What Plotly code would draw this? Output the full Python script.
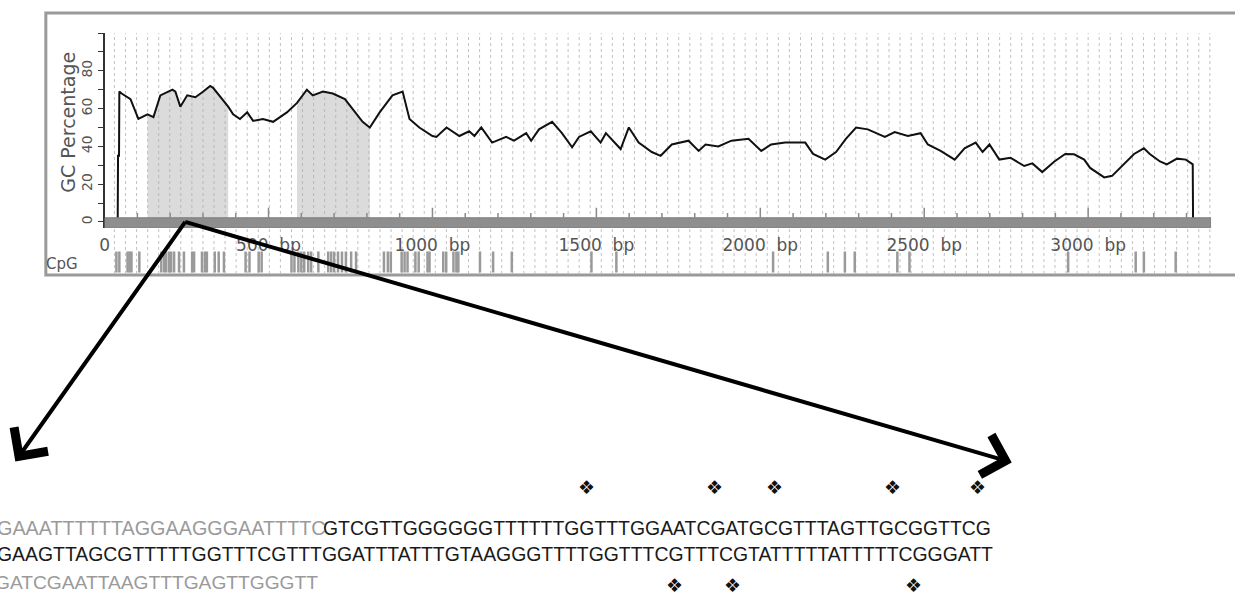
import plotly.graph_objects as go

W, H = 1235, 597

# ---------------- data ----------------
gc_bp = [0, 40, 41, 44, 45, 52, 79, 103, 131, 149, 170, 207, 216, 231, 252, 277, 301, 322, 331,
         359, 377, 392, 413, 435, 453, 483, 514, 556, 587, 617, 635, 666, 696, 733, 763, 787,
         809, 839, 878, 909, 930, 960, 1000, 1012, 1043, 1082, 1112, 1128, 1149, 1182, 1225,
         1249, 1286, 1301, 1325, 1365, 1395, 1426, 1447, 1483, 1513, 1529, 1574, 1599, 1629,
         1669, 1696, 1730, 1781, 1812, 1833, 1872, 1912, 1964, 2003, 2033, 2076, 2137, 2161,
         2198, 2231, 2261, 2292, 2328, 2380, 2410, 2450, 2489, 2511, 2550, 2593, 2623, 2657,
         2678, 2699, 2729, 2763, 2805, 2830, 2860, 2897, 2930, 2957, 2988, 3006, 3049, 3073,
         3097, 3140, 3170, 3188, 3219, 3240, 3271, 3298, 3319, 3320, 3372]
gc_pct = [0, 0, 35, 35, 69, 68, 65, 54.5, 57, 55.5, 67, 70, 69, 61, 67, 66, 69, 72, 71,
          65, 61, 57, 54.5, 58, 53.5, 54.5, 53, 58, 63, 70, 67, 69, 68, 65, 58, 53,
          50, 58, 67, 69, 54.5, 50, 45.5, 45, 50, 45.5, 48, 45.5, 50, 42, 45,
          43, 47, 43, 49, 53, 47, 39.5, 45, 48, 42, 47, 38.6, 50, 42,
          37, 35, 41, 43, 37.6, 41, 40, 43, 44, 37.6, 41, 42, 42, 36,
          33, 37, 44, 50, 49, 45, 47.6, 45.5, 47, 41, 37.6, 33, 39, 42,
          37, 41, 33, 34, 29.6, 31, 26.4, 32, 36, 35.8, 33, 28.6, 23.6, 24.4,
          28.6, 36, 39, 36, 32, 30.5, 33.5, 33, 30.5, 0, 0]

cpg_islands = [(131, 377), (587, 809)]

cpg_sites_bp = [36, 45, 70, 76, 82, 106, 173, 182, 188, 197, 203, 212, 227, 242, 267, 273,
                297, 306, 312, 336, 348, 364, 430, 442, 470, 479, 570, 579, 591, 600, 609,
                621, 630, 652, 682, 691, 700, 712, 724, 736, 752, 767, 852, 864, 873, 906,
                915, 924, 948, 958, 985, 991, 1033, 1042, 1064, 1073, 1079, 1145, 1185,
                1242, 1485, 1561, 2039, 2206, 2258, 2288, 2418, 2455, 2939, 3145, 3170, 3267]

x_tick_vals = [0, 500, 1000, 1500, 2000, 2500, 3000]
x_tick_text = ["0", "500\u00a0\u00a0bp", "1000\u00a0\u00a0bp", "1500\u00a0\u00a0bp",
               "2000\u00a0\u00a0bp", "2500\u00a0\u00a0bp", "3000\u00a0\u00a0bp"]
y_tick_vals = [0, 10, 20, 30, 40, 50, 60, 70, 80, 90, 100]
y_tick_text = ["0", "", "20", "", "40", "", "60", "", "80", "", ""]

seq_line1_gray = "GAAATTTTTTAGGAAGGGAATTTTC"
seq_line1_black = "GTCGTTGGGGGGTTTTTTGGTTTGGAATCGATGCGTTTAGTTGCGGTTCG"
seq_line2 = "GAAGTTAGCGTTTTTGGTTTCGTTTGGATTTATTTGTAAGGGTTTTGGTTTCGTTTCGTATTTTTATTTTTCGGGATT"
seq_line3 = "GATCGAATTAAGTTTGAGTTGGGTT"
marker_char = "\u2756"

zoom_origin_bp = 246

DX = -4  # horizontal calibration of the page


def px(x):
    return (x + DX) / W


def py(y):
    return 1 - y / H


fig = go.Figure()

# CpG island shading
for a, b in cpg_islands:
    xs = [x for x in gc_bp if a <= x <= b]
    ys = [gc_pct[gc_bp.index(x)] for x in xs]
    fig.add_trace(go.Scatter(x=xs, y=ys, mode="lines", fill="tozeroy",
                             fillcolor="rgba(170,170,170,0.42)", line=dict(width=0),
                             hoverinfo="skip"))

# GC curve
fig.add_trace(go.Scatter(x=gc_bp, y=gc_pct, mode="lines",
                         line=dict(color="#111111", width=2)))

# CpG sites row
fig.add_trace(go.Scatter(x=cpg_sites_bp, y=[0.5] * len(cpg_sites_bp), mode="markers",
                         xaxis="x3", yaxis="y3",
                         marker=dict(symbol="line-ns", size=15,
                                     line=dict(width=2.5, color="#9a9a9a"))))

shapes = []
# outer frame
shapes.append(dict(type="rect", xref="paper", yref="paper", x0=px(45), x1=px(1248),
                   y0=py(275), y1=py(13), line=dict(color="#9a9a9a", width=3),
                   layer="below"))
# dotted vertical guide lines
g = 30.0
while g <= 3372:
    shapes.append(dict(type="line", xref="x", yref="paper", x0=g, x1=g,
                       y0=py(274), y1=py(33), line=dict(color="#c2c2c2", width=1, dash="dot"),
                       layer="below"))
    g += 33.75
# sequence bar (x-axis)
shapes.append(dict(type="rect", xref="x", yref="y", x0=0, x1=3375, y0=-3.2, y1=2.2,
                   fillcolor="#8e8e8e", line=dict(color="#7c7c7c", width=1), layer="above"))
# tick marks on the bar
for t in range(100, 3400, 100):
    top = 7.5 if t % 500 == 0 else 4.8
    shapes.append(dict(type="line", xref="x", yref="y", x0=t, x1=t, y0=2.2, y1=top,
                       line=dict(color="#8a8a8a", width=1.5), layer="above"))

annotations = []
annotations.append(dict(text="GC Percentage", x=px(67), y=py(122), xref="paper", yref="paper",
                        xanchor="center", yanchor="middle", textangle=-90, showarrow=False,
                        font=dict(family="DejaVu Sans", size=19, color="#555555")))
annotations.append(dict(text="CpG", x=px(61), y=py(264), xref="paper", yref="paper",
                        xanchor="center", yanchor="middle", showarrow=False,
                        font=dict(family="DejaVu Sans", size=15, color="#555555")))
# zoom arrows
for ax_px, ay_px in [(14 - 185, 463 - 222), (1013 - 185, 463 - 222)]:
    annotations.append(dict(text="", x=zoom_origin_bp, y=0, xref="x", yref="y",
                            ax=ax_px, ay=ay_px, axref="pixel", ayref="pixel",
                            showarrow=True, arrowside="start", startarrowhead=4,
                            startarrowsize=2.0, arrowwidth=4, arrowcolor="#000000"))

seq_font = "Liberation Sans"
annotations.append(dict(text=seq_line1_gray, x=px(-6), y=py(528), xref="paper", yref="paper",
                        xanchor="left", yanchor="middle", showarrow=False,
                        font=dict(family=seq_font, size=19.8, color="#9a9a9a")))
annotations.append(dict(text=seq_line1_black, x=px(321), y=py(528), xref="paper", yref="paper",
                        xanchor="left", yanchor="middle", showarrow=False,
                        font=dict(family=seq_font, size=19.4, color="#1a1a1a")))
annotations.append(dict(text=seq_line2, x=px(-6), y=py(554), xref="paper", yref="paper",
                        xanchor="left", yanchor="middle", showarrow=False,
                        font=dict(family=seq_font, size=19.4, color="#1a1a1a")))
annotations.append(dict(text=seq_line3, x=px(-8), y=py(582), xref="paper", yref="paper",
                        xanchor="left", yanchor="middle", showarrow=False,
                        font=dict(family=seq_font, size=19.2, color="#9a9a9a")))
# methylation markers
for mx, my in [(588, 487), (716, 487), (777, 487), (895, 487), (980, 487),
               (676, 585), (734, 585), (916, 585), (51, 604)]:
    annotations.append(dict(text=marker_char, x=px(mx), y=py(my), xref="paper", yref="paper",
                            xanchor="center", yanchor="middle", showarrow=False,
                            font=dict(family="DejaVu Sans", size=19, color="#111111")))

fig.update_layout(
    width=W, height=H,
    margin=dict(l=0, r=0, t=0, b=0),
    paper_bgcolor="white",
    plot_bgcolor="rgba(0,0,0,0)",
    showlegend=False,
    xaxis=dict(domain=[px(104), px(1215)], range=[0, 3375], anchor="y",
               showgrid=False, zeroline=False, showline=False, ticks="",
               tickmode="array", tickvals=x_tick_vals, ticktext=x_tick_text,
               tickfont=dict(family="DejaVu Sans", size=17, color="#555555"),
               ticklabelstandoff=5),
    yaxis=dict(domain=[py(228), py(33)], range=[-3.2, 100], anchor="x",
               showgrid=False, zeroline=False, showline=True, linecolor="#333333",
               linewidth=1.5, ticks="outside", ticklen=5, tickcolor="#333333", tickwidth=1.2,
               tickmode="array", tickvals=y_tick_vals, ticktext=y_tick_text, tickangle=-90,
               tickfont=dict(family="DejaVu Sans", size=14, color="#555555")),
    xaxis3=dict(domain=[px(104), px(1215)], anchor="y3", matches="x", visible=False),
    yaxis3=dict(domain=[py(274), py(250)], range=[0, 1], anchor="x3", visible=False),
    shapes=shapes,
    annotations=annotations,
)

fig.write_html("out.html", config={"displayModeBar": False},
               post_script="document.body.style.margin='0';document.body.style.overflow='hidden';")
